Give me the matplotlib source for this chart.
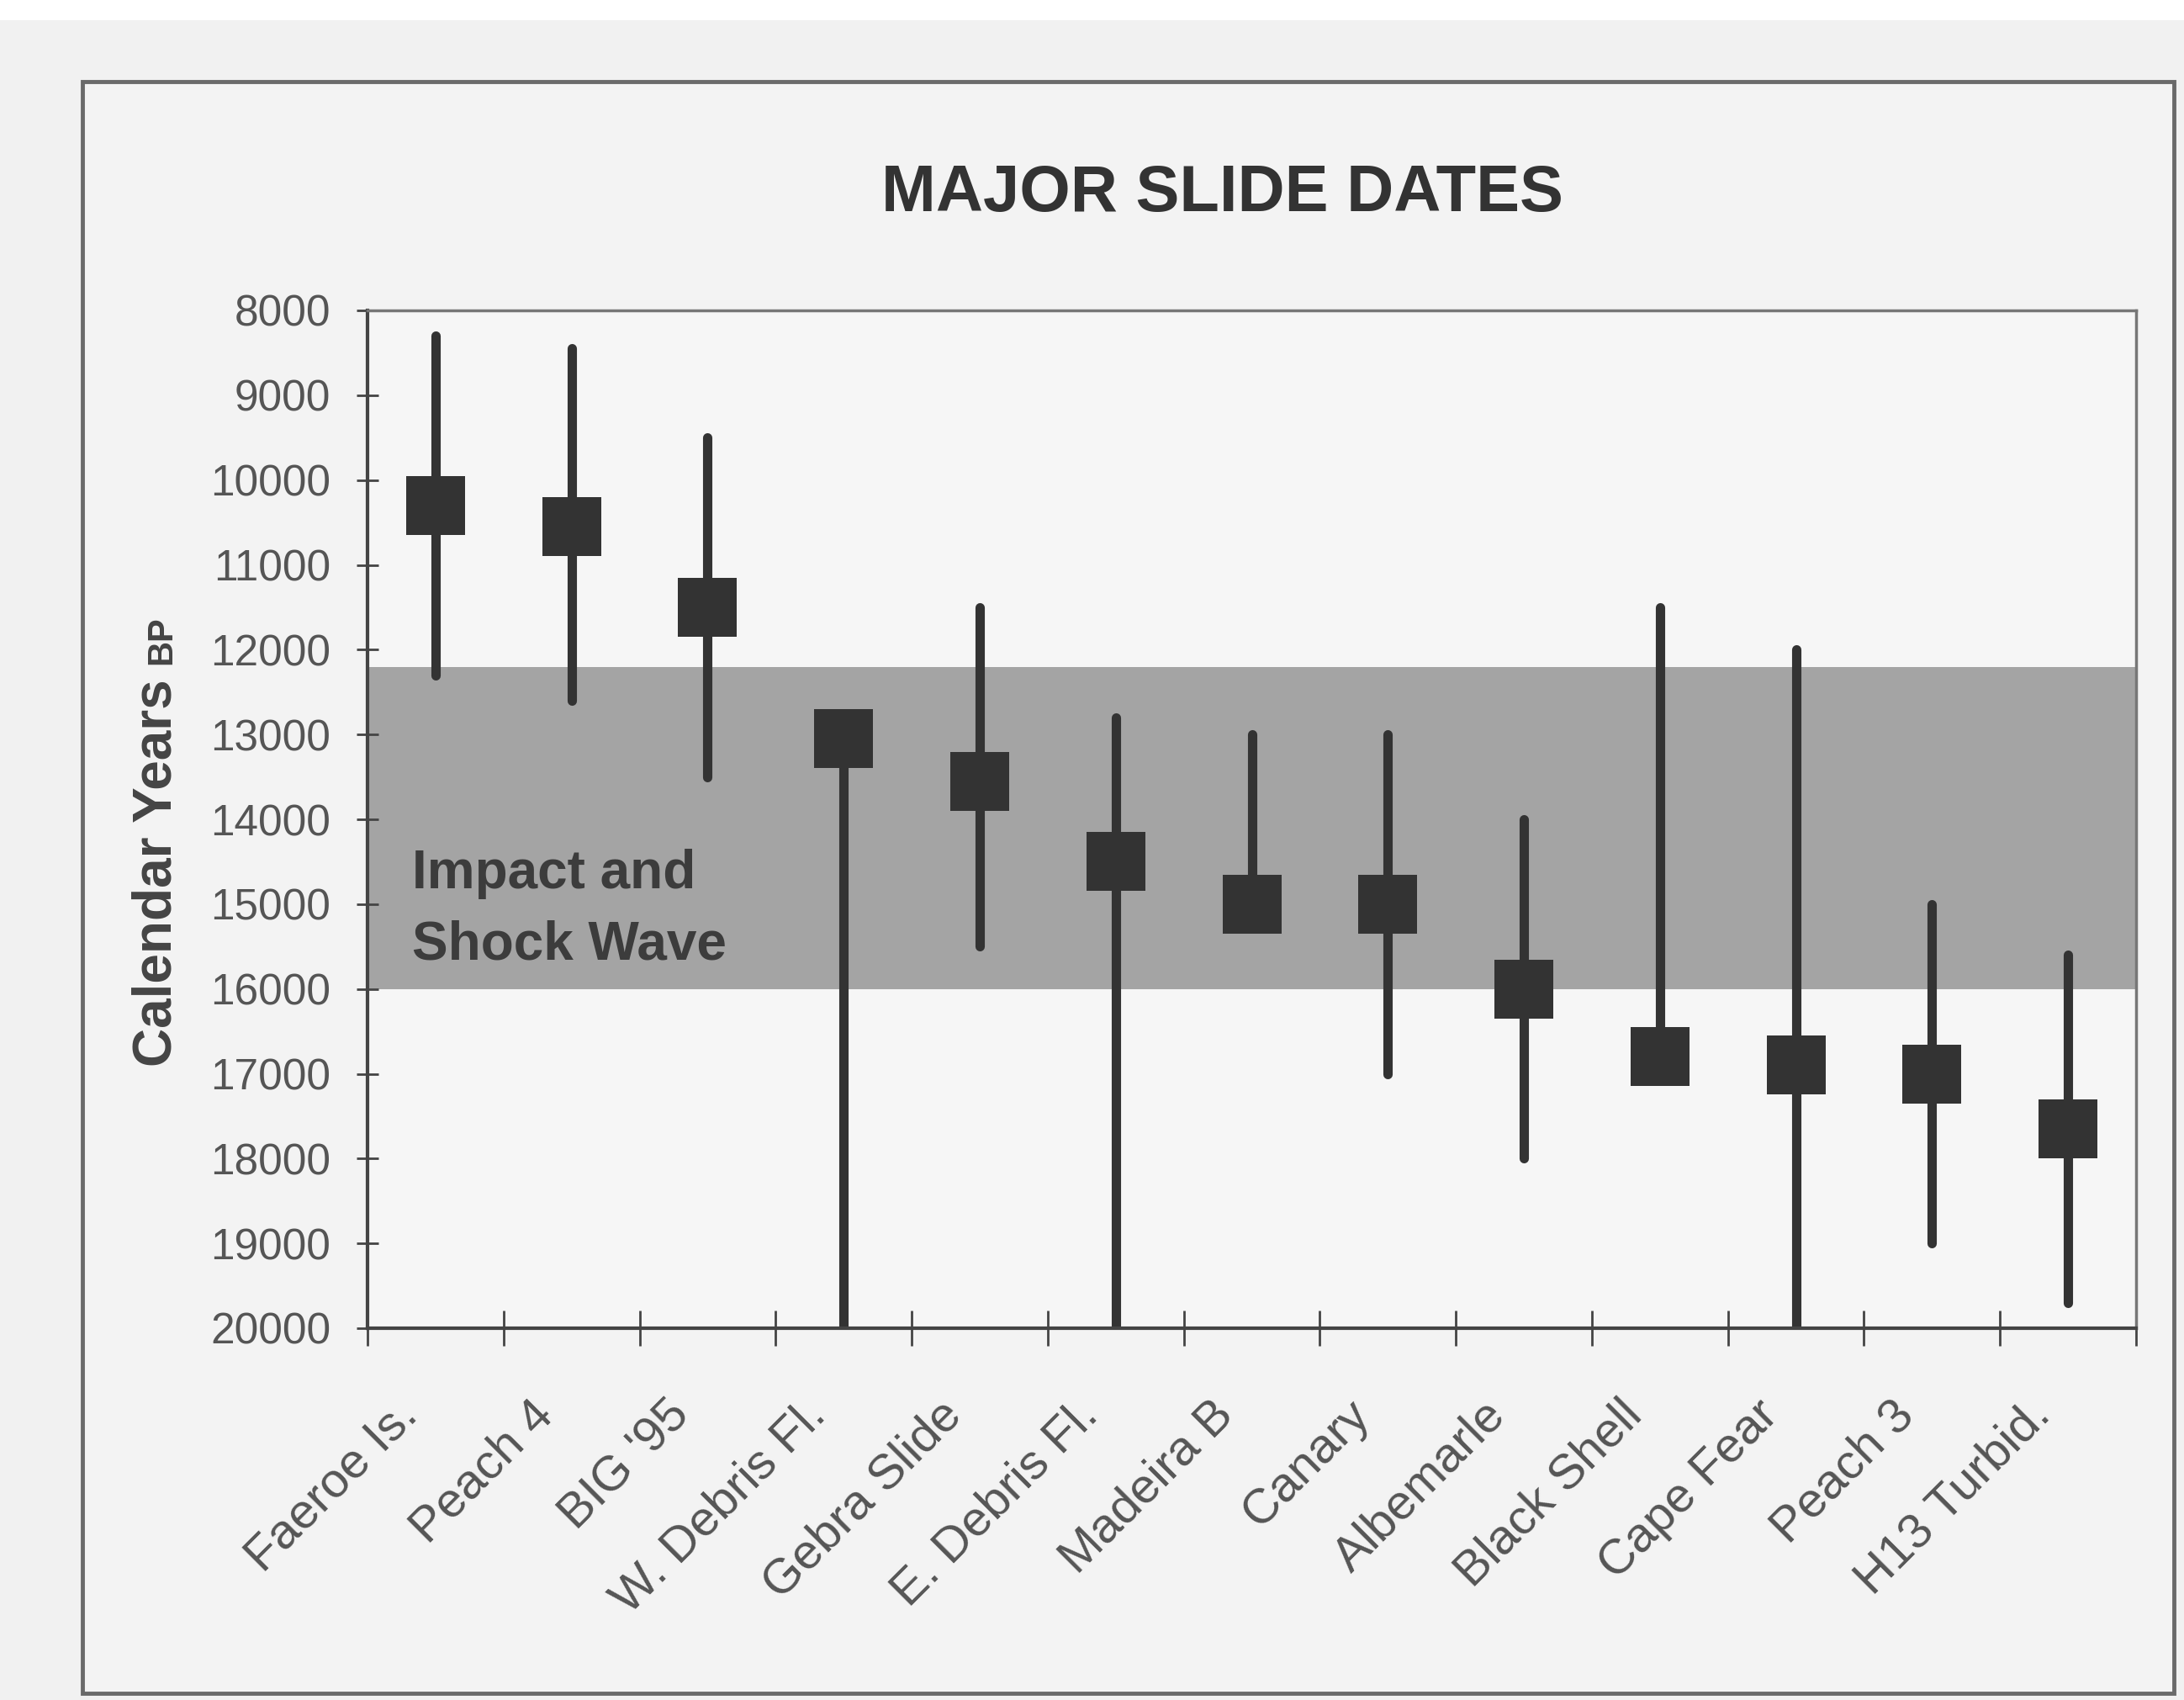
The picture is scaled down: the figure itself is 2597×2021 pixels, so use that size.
import matplotlib
matplotlib.use("Agg")
import matplotlib.pyplot as plt
import matplotlib.transforms as mtransforms
from matplotlib.patches import Rectangle
import numpy as np

plt.rcParams['font.family'] = ['Liberation Sans', 'DejaVu Sans']

# ---- data ----
categories = ["Faeroe Is.", "Peach 4", "BIG '95", "W. Debris Fl.", "Gebra Slide",
              "E. Debris Fl.", "Madeira B", "Canary", "Albemarle", "Black Shell",
              "Cape Fear", "Peach 3", "H13 Turbid."]
slide_date = [10300, 10550, 11500, 13050, 13550, 14500, 15000, 15000, 16000,
              16800, 16900, 17000, 17650]
range_young = [8300, 8450, 9500, 13050, 11500, 12800, 13000, 13000, 14000,
               11500, 12000, 15000, 15600]
range_old = [12300, 12600, 13500, 20000, 15500, 20000, 15000, 17000, 18000,
             16800, 20000, 19000, 19700]
band_start = 12200
band_end = 16000
band_label = ["Impact and", "Shock Wave"]
ytick_values = list(range(8000, 20001, 1000))

W, H = 2597, 2021
DPI = 100
fig = plt.figure(figsize=(W / DPI, H / DPI), dpi=DPI, facecolor='#f1f1f1')

# white strip at very top
fig.patches.append(Rectangle((0, 1 - 24 / H), 1, 24 / H, transform=fig.transFigure,
                             facecolor='white', edgecolor='none', zorder=-10))
# outer frame
fig.patches.append(Rectangle((98 / W, (H - 2013) / H), (2585 - 98) / W, (2013 - 97) / H,
                             transform=fig.transFigure, facecolor='#f3f3f3',
                             edgecolor='#6a6a6a', linewidth=3.5, zorder=-10))

left, right = 437 / W, 2540 / W
bottom, top = (H - 1579) / H, (H - 369) / H
ax = fig.add_axes([left, bottom, right - left, top - bottom])
ax.set_zorder(1)
ax.set_facecolor('#f6f6f6')

x = np.arange(len(categories))
ax.set_xlim(-0.5, len(categories) - 0.5)
ax.set_ylim(20000, 8000)

ax.axhspan(band_start, band_end, color='#a4a4a4', zorder=1, linewidth=0)

vl = ax.vlines(x, range_young, range_old, color='#333333', linewidth=8, zorder=3)
vl.set_capstyle('round')
ax.plot(x, slide_date, linestyle='none', marker='s', markersize=50,
        color='#333333', markeredgewidth=0, zorder=4)

# band text
ax.text(-0.17, 14640, band_label[0], fontsize=46, fontweight='bold', color='#3c3c3c',
        va='center', ha='left', zorder=2)
ax.text(-0.17, 15480, band_label[1], fontsize=46, fontweight='bold', color='#3c3c3c',
        va='center', ha='left', zorder=2)

# spines
for s in ['left', 'bottom']:
    ax.spines[s].set_color('#444444')
    ax.spines[s].set_linewidth(3)
for s in ['top', 'right']:
    ax.spines[s].set_color('#777777')
    ax.spines[s].set_linewidth(2.5)
for s in ax.spines.values():
    s.set_zorder(5)

# y ticks
ax.set_yticks(ytick_values)
ax.set_yticklabels([str(v) for v in ytick_values])
ax.tick_params(axis='y', direction='inout', length=19, width=2, color='#444444',
               labelsize=37, labelcolor='#555555', pad=22)

# x ticks: boundaries as minor ticks, labels placed manually
ax.set_xticks(np.arange(-0.5, len(categories) + 0.5, 1.0), minor=True)
ax.set_xticks([])
ax.tick_params(axis='x', which='minor', direction='inout', length=30, width=2,
               color='#444444')
offset = mtransforms.ScaledTranslation(-30 / DPI, -95 / DPI, fig.dpi_scale_trans)
trans = mtransforms.blended_transform_factory(ax.transData, ax.transAxes) + offset
for xi, lab in zip(x, categories):
    ax.text(xi, 0, lab, transform=trans, rotation=45, rotation_mode='anchor',
            ha='right', va='center', fontsize=42, color='#555555', clip_on=False)

# title
fig.text(1453 / W, 1 - 230 / H, "MAJOR SLIDE DATES", fontsize=56, fontweight='bold',
         color='#333333', ha='center', va='center')

# y label
fig.text(203 / W, 1 - 1268 / H, "Calendar Years", rotation=90, rotation_mode='anchor',
         ha='left', va='baseline', fontsize=46, fontweight='bold', color='#444444')
fig.text(203 / W, 1 - 790 / H, "BP", rotation=90, rotation_mode='anchor',
         ha='left', va='baseline', fontsize=30, fontweight='bold', color='#444444')

fig.savefig("out.png", dpi=DPI, facecolor=fig.get_facecolor())
